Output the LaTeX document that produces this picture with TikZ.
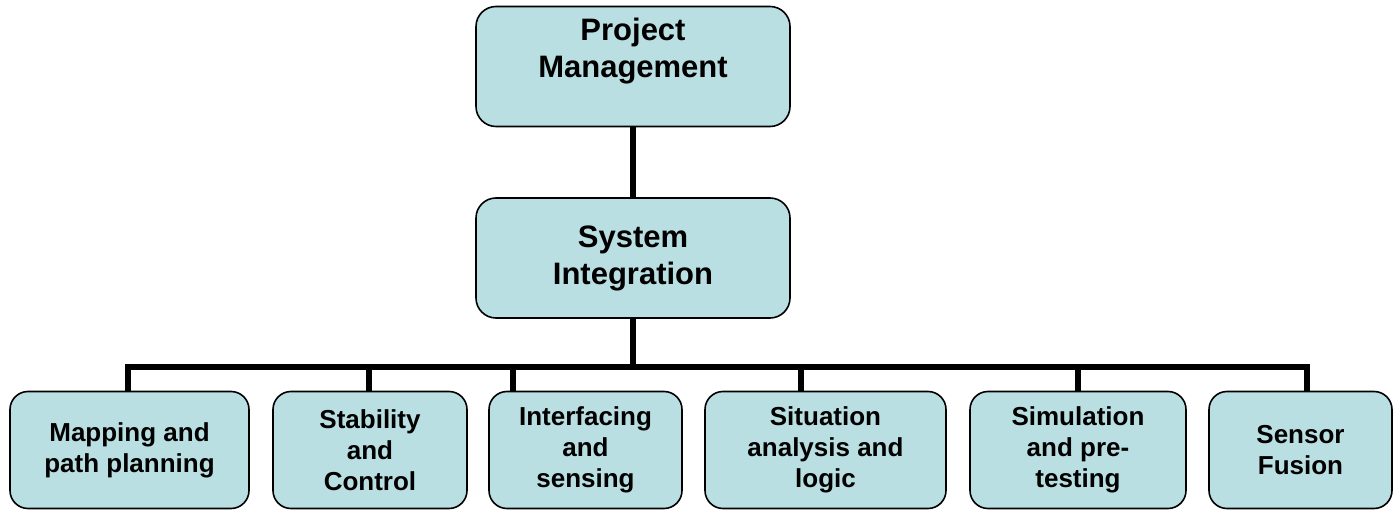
\documentclass[tikz,border=0pt]{standalone}
\usepackage{fontspec}
\setmainfont{Liberation Sans}
\usepackage{tikz}

\definecolor{boxfill}{RGB}{185,223,226}

\begin{document}
\begin{tikzpicture}[x=1pt,y=-1pt,
    topbox/.style={draw=black, line width=1.6pt, fill=boxfill, rounded corners=20pt,
        minimum width=314pt, minimum height=120pt, inner sep=0pt, align=center,
        font=\fontsize{31}{37}\selectfont\bfseries},
    taskbox/.style={draw=black, line width=1.6pt, fill=boxfill, rounded corners=18pt,
        minimum height=117pt, inner sep=0pt, align=center,
        font=\fontsize{26}{31}\selectfont\bfseries},
    wire/.style={line width=6pt}]
    \useasboundingbox (0,0) rectangle (1393,510);

    \node[topbox] (pm) at (633,66.5) {Project\\Management\\\mbox{}};
    \node[topbox] (si) at (633,258) {System\\Integration};

    \node[taskbox, minimum width=239pt] (map) at (129.5,450) {Mapping and\\path planning};
    \node[taskbox, minimum width=194pt] (stab) at (370,450) {Stability\\and\\Control};
    \node[taskbox, minimum width=193pt] (intf) at (585.5,450) {Interfacing\\and\\sensing};
    \node[taskbox, minimum width=241pt] (sit) at (825.5,450) {Situation\\analysis and\\logic};
    \node[taskbox, minimum width=216pt] (sim) at (1078,450) {Simulation\\and pre-\\testing};
    \node[taskbox, minimum width=183pt] (fus) at (1300.5,450) {Sensor\\Fusion};

    % bus line and drops
    \coordinate (j) at (633,367);
    \coordinate (b1) at (128,367);
    \coordinate (b2) at (369,367);
    \coordinate (b3) at (513,367);
    \coordinate (b4) at (801,367);
    \coordinate (b5) at (1078,367);
    \coordinate (b6) at (1307,367);

    \draw[wire] (pm.south) -- (si.north);
    \draw[wire] (si.south) -- (j);
    \draw[wire] (b1 |- map.north) -- (b1) -- (b6) -- (b6 |- fus.north);
    \draw[wire] (b2) -- (b2 |- stab.north);
    \draw[wire] (b3) -- (b3 |- intf.north);
    \draw[wire] (b4) -- (b4 |- sit.north);
    \draw[wire] (b5) -- (b5 |- sim.north);
\end{tikzpicture}
\end{document}
